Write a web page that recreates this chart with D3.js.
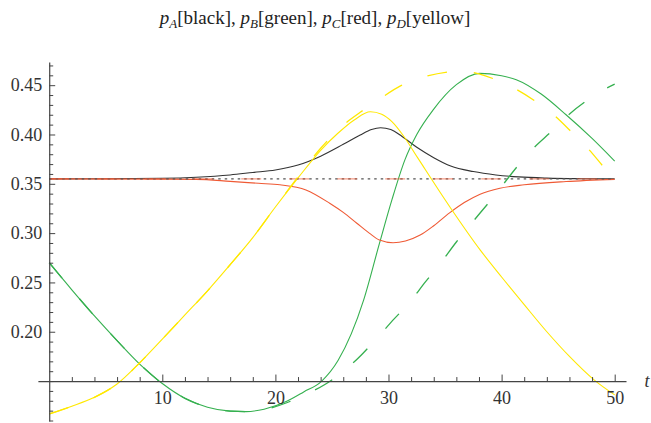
<!DOCTYPE html>
<html>
<head>
<meta charset="utf-8">
<script src="https://cdn.jsdelivr.net/npm/d3@7"></script>
</head>
<body style="margin:0;background:#fff">
<svg id="chart" width="651" height="423" style="display:block;font-family:'Liberation Serif',serif"></svg>
<script>
// ---------- data ----------
const titleParts = [["A", "[black], "], ["B", "[green], "], ["C", "[red], "], ["D", "[yellow]"]];
const xMajorTicks = [10, 20, 30, 40, 50];
const xMinorTicks = [2, 4, 6, 8, 12, 14, 16, 18, 22, 24, 26, 28, 32, 34, 36, 38, 42, 44, 46, 48];
const yMajorTicks = [0.20, 0.25, 0.30, 0.35, 0.40, 0.45];
const yMinorTicks = [0.11, 0.12, 0.13, 0.14, 0.15, 0.16, 0.17, 0.18, 0.19, 0.21, 0.22, 0.23, 0.24,
  0.26, 0.27, 0.28, 0.29, 0.31, 0.32, 0.33, 0.34, 0.36, 0.37, 0.38, 0.39, 0.41, 0.42, 0.43, 0.44, 0.46, 0.47];

// solid curves
const pA = [[0,0.355],[5,0.3551],[10,0.3556],[13,0.3567],[16,0.359],[18,0.3615],[20,0.364],[22,0.369],
  [24,0.378],[26,0.390],[27.5,0.3995],[28.5,0.405],[29.3,0.4068],[30.2,0.405],[31.2,0.398],[32.5,0.387],
  [34,0.3765],[35.5,0.368],[37.5,0.3624],[39.5,0.359],[41.5,0.357],[44,0.3558],[47,0.3552],[50,0.355]];
const pB = [[0,0.270],[2,0.2425],[4,0.216],[6,0.191],[8,0.1672],[10,0.1475],[12,0.1325],[14,0.1235],
  [16,0.1195],[17.4,0.119],[19,0.1215],[21,0.1295],[22.5,0.139],[24.1,0.150],[25.55,0.171],[27.8,0.232],
  [29.2,0.2896],[30.3,0.3337],[31.45,0.3743],[32.5,0.400],[33.95,0.425],[36,0.4505],[38.05,0.462],
  [40,0.4595],[41.3,0.4556],[43.5,0.441],[45.7,0.420],[48,0.396],[50,0.373]];
const pC = [[0,0.355],[10,0.3547],[13,0.3545],[16,0.3525],[18.5,0.3505],[20.4,0.349],[22.7,0.3438],
  [24.8,0.3303],[26,0.321],[27.2,0.31],[28.3,0.300],[29.2,0.293],[30.4,0.2903],[31.5,0.292],[32.8,0.298],
  [34,0.3075],[35.4,0.3205],[36.7,0.331],[38.1,0.3395],[39.85,0.3455],[42,0.349],[45.7,0.3523],[50,0.3545]];
const pD = [[0,0.1167],[2,0.1245],[4,0.1335],[6,0.147],[8,0.1685],[10,0.1925],[12,0.217],[14,0.2415],
  [16,0.268],[18,0.2955],[20,0.3265],[22,0.356],[24,0.384],[25.5,0.401],[27,0.415],[28.4,0.423],
  [29.4,0.4205],[30.3,0.413],[31.3,0.399],[32.6,0.376],[35.4,0.327],[38.1,0.283],[40,0.2555],
  [42,0.2275],[44,0.200],[46,0.175],[48.2,0.151],[50,0.136]];

// dashed curves
const pAdash = [[0,0.355],[50,0.355]];
const pCdash = [[0,0.355],[50,0.355]];
const pBdash = [[0,0.270],[2,0.2425],[4,0.216],[6,0.191],[8,0.1672],[10,0.1475],[12,0.1325],[14,0.1235],
  [16,0.1195],[17.4,0.119],[19,0.121],[21,0.128],[22.5,0.1355],[24.3,0.146],[25.8,0.158],[27.6,0.1765],
  [28.9,0.1925],[30.5,0.213],[31.8,0.229],[33.3,0.251],[34.5,0.268],[36,0.291],[37.2,0.308],[39.3,0.337],
  [41.4,0.3677],[42.7,0.3847],[44.5,0.404],[45.8,0.4187],[47.7,0.4357],[49.3,0.447],[50,0.451]];
const pDdash = [[0,0.1167],[2,0.1245],[4,0.1335],[6,0.147],[8,0.1685],[10,0.1925],[12,0.217],[14,0.2415],
  [16,0.268],[18,0.2955],[20,0.3265],[22,0.357],[24,0.386],[26,0.4095],[27.5,0.4225],[29.1,0.435],
  [31.1,0.4495],[32.9,0.4575],[35.3,0.4635],[36.5,0.4645],[38,0.4615],[39.4,0.456],[41.1,0.447],
  [43.2,0.432],[44.7,0.419],[46.4,0.400],[47.7,0.385],[49.3,0.3635],[50,0.355]];

// ---------- drawing ----------
const FONTCSS = "font-family:'Liberation Serif',serif;";
const svg = d3.select("#chart");
svg.append("rect").attr("width", 651).attr("height", 423).attr("fill", "#fff");

const x = d3.scaleLinear().domain([-1, 51]).range([37.9, 626]);
const y = d3.scaleLinear().domain([0.1095, 0.4735]).range([421, 62]);

const axisColor = "#444";

// convert middle/end anchored text into start anchored text (measured)
function toStart(sel, anchor) {
  sel.each(function () {
    try {
      const w = this.getComputedTextLength();
      if (!isFinite(w) || w <= 0) return;
      const x0 = +this.getAttribute("x") || 0;
      const shift = anchor === "end" ? w : w / 2;
      this.setAttribute("x", x0 - shift);
      this.setAttribute("text-anchor", "start");
    } catch (e) { /* keep anchor */ }
  });
}

// title
const title = svg.append("text")
  .attr("x", 315).attr("y", 24)
  .attr("text-anchor", "middle")
  .attr("style", FONTCSS + "font-size:19px")
  .attr("fill", "#222");
titleParts.forEach(([sub, rest]) => {
  title.append("tspan").attr("style", FONTCSS + "font-style:italic").text("p");
  title.append("tspan").attr("style", FONTCSS + "font-style:italic;font-size:13px").attr("dy", 4).text(sub);
  title.append("tspan").attr("style", FONTCSS).attr("dy", -4).text(rest);
});
toStart(title, "middle");

// curves
const line = d3.line().x(d => x(d[0])).y(d => y(d[1])).curve(d3.curveMonotoneX);
const plot = svg.append("g");
const solid = [[pA, "#333333"], [pB, "#35b04f"], [pC, "#ef5a35"], [pD, "#ffe800"]];
solid.forEach(([data, col]) => {
  plot.append("path").attr("d", line(data)).attr("fill", "none")
    .attr("stroke", col).attr("stroke-width", 1.1);
});
const dashed = [
  [pAdash, "#555555", "2.5,4", 1],
  [pBdash, "#35b04f", "20,27", 1],
  [pCdash, "#ef5a35", "20,28", 0.6],
  [pDdash, "#ffe800", "20,27", 1]
];
dashed.forEach(([data, col, dash, op]) => {
  plot.append("path").attr("d", line(data)).attr("fill", "none")
    .attr("stroke", col).attr("stroke-width", 1.3)
    .attr("stroke-dasharray", dash).attr("stroke-opacity", op);
});

// axes
const x0 = x(0), y0 = y(0.15);
function styleAxis(g) {
  g.attr("font-family", null).attr("font-size", null).attr("style", FONTCSS + "font-size:18px");
  g.selectAll("path.domain").attr("stroke", axisColor).attr("stroke-width", 1.2);
  g.selectAll(".tick line").attr("stroke", axisColor).attr("stroke-width", 1);
  g.selectAll("text").attr("style", FONTCSS + "font-size:18px").attr("fill", "#333");
}
// x axis
svg.append("g").attr("transform", `translate(0,${y0})`)
  .call(d3.axisTop(x).tickValues(xMinorTicks).tickSize(4).tickSizeOuter(0).tickFormat(""))
  .call(styleAxis);
svg.append("g").attr("transform", `translate(0,${y0})`)
  .call(d3.axisTop(x).tickValues(xMajorTicks).tickSize(6.5).tickSizeOuter(0).tickFormat(""))
  .call(styleAxis).call(g => g.select(".domain").remove());
const xLab = svg.append("g").attr("transform", `translate(0,${y0})`)
  .call(d3.axisBottom(x).tickValues(xMajorTicks).tickSize(0).tickPadding(10).tickFormat(d3.format("d")))
  .call(styleAxis).call(g => g.select(".domain").remove());
xLab.selectAll("text").attr("text-anchor", "middle");
toStart(xLab.selectAll("text"), "middle");
// y axis
svg.append("g").attr("transform", `translate(${x0},0)`)
  .call(d3.axisRight(y).tickValues(yMinorTicks).tickSize(4).tickSizeOuter(0).tickFormat(""))
  .call(styleAxis);
svg.append("g").attr("transform", `translate(${x0},0)`)
  .call(d3.axisRight(y).tickValues(yMajorTicks).tickSize(6).tickSizeOuter(0).tickFormat(""))
  .call(styleAxis).call(g => g.select(".domain").remove());
const yLab = svg.append("g").attr("transform", `translate(${x0},0)`)
  .call(d3.axisLeft(y).tickValues(yMajorTicks).tickSize(0).tickPadding(7).tickFormat(d3.format(".2f")))
  .call(styleAxis).call(g => g.select(".domain").remove());
yLab.selectAll("text").attr("text-anchor", "end");
toStart(yLab.selectAll("text"), "end");

// axis label t
const tLab = svg.append("text")
  .attr("x", x(51) + 21).attr("y", y0).attr("dy", "0.32em")
  .attr("text-anchor", "middle")
  .attr("style", FONTCSS + "font-style:italic;font-size:18px")
  .attr("fill", "#333")
  .text("t");
toStart(tLab, "middle");
</script>
</body>
</html>
